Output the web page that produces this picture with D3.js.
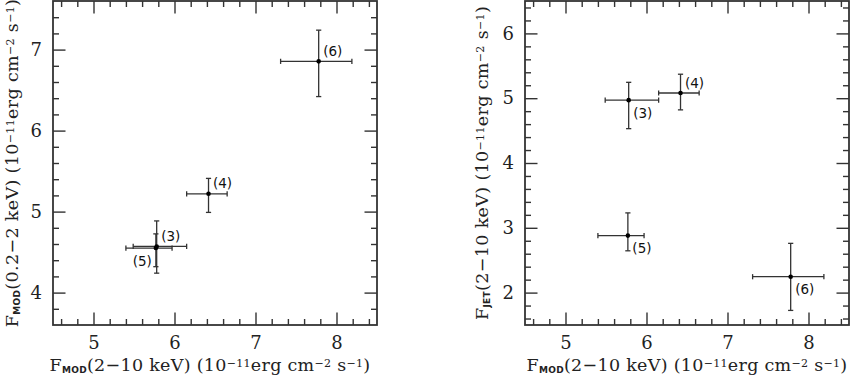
<!DOCTYPE html>
<html>
<head>
<meta charset="utf-8">
<script src="https://cdn.jsdelivr.net/npm/d3@7"></script>
<style>
  html, body { margin: 0; padding: 0; background: #fff; }
  svg { display: block; }
</style>
</head>
<body>
<svg id="chart" width="851" height="380"></svg>
<script>
// ---------------- data ----------------
const obsLabels = ["(3)", "(4)", "(5)", "(6)"];
// F_MOD (2-10 keV), 1e-11 erg cm^-2 s^-1
const fModHard   = [5.78, 6.42, 5.77, 7.78];
const fModHardLo = [5.49, 6.15, 5.40, 7.31];
const fModHardHi = [6.15, 6.65, 5.97, 8.19];
// F_MOD (0.2-2 keV)
const fModSoft   = [4.57, 5.22, 4.55, 6.855];
const fModSoftLo = [4.24, 4.99, 4.32, 6.42];
const fModSoftHi = [4.885, 5.41, 4.725, 7.24];
// F_JET (2-10 keV)
const fJet   = [4.97, 5.08, 2.88, 2.245];
const fJetLo = [4.53, 4.82, 2.645, 1.725];
const fJetHi = [5.245, 5.37, 3.23, 2.76];

const xTicks = [5, 6, 7, 8];
const yTicksLeft = [4, 5, 6, 7];
const yTicksRight = [2, 3, 4, 5, 6];

// label placement per panel (layout only)
const labelPosLeft  = ["ne", "ne", "sw", "ne"];
const labelPosRight = ["se", "ne", "se", "se"];

// ---------------- drawing ----------------
const svg = d3.select("#chart");
const FONT = "'DejaVu Serif', serif";
const LABFONT = "'DejaVu Sans', sans-serif";
const INK = "#222";

function addRich(textSel, parts) {
  parts.forEach(p => {
    const t = textSel.append("tspan").text(p.t);
    if (p.sub) t.attr("baseline-shift", "-22%").attr("font-size", "9px").attr("font-weight", "bold").attr("font-family", LABFONT);
    if (p.sup) t.attr("baseline-shift", "38%").attr("font-size", "11px");
  });
}

function panel(cfg) {
  const g = svg.append("g").attr("transform", `translate(${cfg.left},${cfg.top})`);
  const W = cfg.width, H = cfg.height;
  const x = d3.scaleLinear().domain([4.5, 8.5]).range([0, W]);
  const y = d3.scaleLinear().domain(cfg.yDomain).range([H, 0]);

  const minorX = d3.range(4.6, 8.5, 0.2).map(v => +v.toFixed(1)).filter(v => !xTicks.includes(v));
  const minorY = d3.range(Math.ceil(cfg.yDomain[0] * 5) / 5, cfg.yDomain[1] + 1e-9, 0.2)
                   .map(v => +v.toFixed(1)).filter(v => !cfg.yTicks.includes(v) && v > cfg.yDomain[0] && v < cfg.yDomain[1]);

  const MAJ = 12.5, MIN = 6;
  function styleAxis(sel) {
    sel.select(".domain").remove();
    sel.selectAll(".tick line").attr("stroke", "#333").attr("stroke-width", 1.4);
    sel.selectAll(".tick text").attr("font-family", FONT).attr("font-size", "18px").attr("fill", INK);
  }
  // bottom
  g.append("g").attr("transform", `translate(0,${H})`)
    .call(d3.axisBottom(x).tickValues(xTicks).tickSize(-MAJ).tickPadding(11).tickFormat(d3.format("d")))
    .call(styleAxis);
  g.append("g").attr("transform", `translate(0,${H})`)
    .call(d3.axisBottom(x).tickValues(minorX).tickSize(-MIN).tickFormat(""))
    .call(styleAxis);
  // top
  g.append("g").call(d3.axisTop(x).tickValues(xTicks).tickSize(-MAJ).tickFormat("")).call(styleAxis);
  g.append("g").call(d3.axisTop(x).tickValues(minorX).tickSize(-MIN).tickFormat("")).call(styleAxis);
  // left
  g.append("g")
    .call(d3.axisLeft(y).tickValues(cfg.yTicks).tickSize(-MAJ).tickPadding(11).tickFormat(d3.format("d")))
    .call(styleAxis);
  g.append("g").call(d3.axisLeft(y).tickValues(minorY).tickSize(-MIN).tickFormat("")).call(styleAxis);
  // right
  g.append("g").attr("transform", `translate(${W},0)`)
    .call(d3.axisRight(y).tickValues(cfg.yTicks).tickSize(-MAJ).tickFormat("")).call(styleAxis);
  g.append("g").attr("transform", `translate(${W},0)`)
    .call(d3.axisRight(y).tickValues(minorY).tickSize(-MIN).tickFormat("")).call(styleAxis);

  // frame
  g.append("rect").attr("x", 0).attr("y", 0).attr("width", W).attr("height", H)
    .attr("fill", "none").attr("stroke", "#333").attr("stroke-width", 1.8);

  // data
  const pts = obsLabels.map((lab, i) => ({
    lab, pos: cfg.labelPos[i],
    x: cfg.xv[i], xlo: cfg.xlo[i], xhi: cfg.xhi[i],
    y: cfg.yv[i], ylo: cfg.ylo[i], yhi: cfg.yhi[i]
  }));
  const CAP = 2.6;
  const eg = g.append("g").attr("stroke", "#333").attr("stroke-width", 1.3).attr("fill", "none");
  pts.forEach(p => {
    const px = x(p.x), py = y(p.y);
    eg.append("line").attr("x1", x(p.xlo)).attr("x2", x(p.xhi)).attr("y1", py).attr("y2", py);
    eg.append("line").attr("x1", x(p.xlo)).attr("x2", x(p.xlo)).attr("y1", py - CAP).attr("y2", py + CAP);
    eg.append("line").attr("x1", x(p.xhi)).attr("x2", x(p.xhi)).attr("y1", py - CAP).attr("y2", py + CAP);
    eg.append("line").attr("x1", px).attr("x2", px).attr("y1", y(p.ylo)).attr("y2", y(p.yhi));
    eg.append("line").attr("x1", px - CAP).attr("x2", px + CAP).attr("y1", y(p.ylo)).attr("y2", y(p.ylo));
    eg.append("line").attr("x1", px - CAP).attr("x2", px + CAP).attr("y1", y(p.yhi)).attr("y2", y(p.yhi));
  });
  g.append("g").selectAll("circle").data(pts).join("circle")
    .attr("cx", d => x(d.x)).attr("cy", d => y(d.y)).attr("r", 2.3).attr("fill", "#000");
  g.append("g").selectAll("text").data(pts).join("text")
    .attr("x", d => x(d.x) + (d.pos.includes("w") ? -4 : 4.5))
    .attr("y", d => y(d.y) + (d.pos.includes("s") ? 17.5 : -5.5))
    .attr("text-anchor", d => d.pos.includes("w") ? "end" : "start")
    .attr("font-family", LABFONT).attr("font-size", "13.5px").attr("fill", "#111")
    .text(d => d.lab);

  // x title
  const xt = g.append("text").attr("x", W / 2 - cfg.xTitleShift).attr("y", H + 46)
    .attr("text-anchor", "middle").attr("font-family", FONT).attr("font-size", "17.5px")
    .attr("letter-spacing", "0.3px").attr("fill", INK);
  addRich(xt, cfg.xTitle);
  // y title
  const yt = g.append("text")
    .attr("transform", `translate(${cfg.yTitleX},${H / 2}) rotate(-90)`)
    .attr("text-anchor", "middle").attr("font-family", FONT).attr("font-size", "17.5px")
    .attr("letter-spacing", "0.35px").attr("fill", INK);
  addRich(yt, cfg.yTitle);
}

const unitParts = [
  { t: "  (10" }, { t: "−11", sup: true }, { t: "erg cm" }, { t: "−2", sup: true },
  { t: " s" }, { t: "−1", sup: true }, { t: ")" }
];
const xTitle = [{ t: "F" }, { t: "MOD", sub: true }, { t: "(2−10 keV)" }].concat(unitParts);

panel({
  left: 53, top: 1, width: 324, height: 324,
  yDomain: [3.6, 7.6], yTicks: yTicksLeft,
  xv: fModHard, xlo: fModHardLo, xhi: fModHardHi,
  yv: fModSoft, ylo: fModSoftLo, yhi: fModSoftHi,
  labelPos: labelPosLeft,
  xTitle: xTitle, xTitleShift: 5,
  yTitle: [{ t: "F" }, { t: "MOD", sub: true }, { t: "(0.2−2 keV)" }].concat(unitParts),
  yTitleX: -35
});

panel({
  left: 525, top: 1, width: 324, height: 324,
  yDomain: [1.5, 6.5], yTicks: yTicksRight,
  xv: fModHard, xlo: fModHardLo, xhi: fModHardHi,
  yv: fJet, ylo: fJetLo, yhi: fJetHi,
  labelPos: labelPosRight,
  xTitle: xTitle, xTitleShift: 0,
  yTitle: [{ t: "F" }, { t: "JET", sub: true }, { t: "(2−10 keV)" }].concat(unitParts),
  yTitleX: -37
});
</script>
</body>
</html>
